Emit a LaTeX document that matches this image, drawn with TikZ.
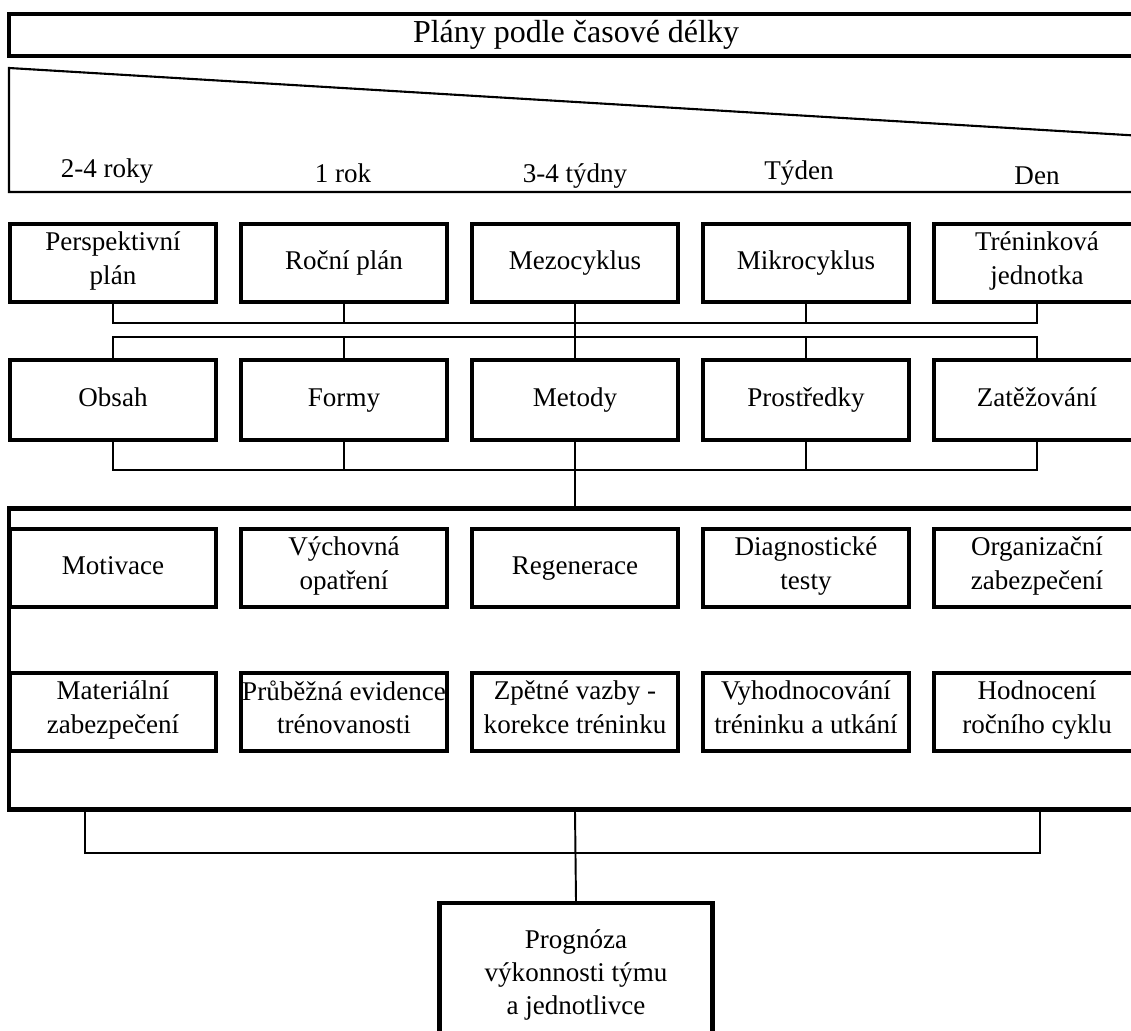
\documentclass[tikz,border=0pt]{standalone}
\usepackage{fontspec}
\setmainfont{Liberation Serif}
\usetikzlibrary{calc}

\tikzset{
	box/.style={draw, line width=1.8pt, minimum width=4.12cm, minimum height=1.56cm, inner xsep=0pt, inner ysep=1pt, align=center,
		execute at begin node=\strut, execute at end node=\strut},
	frame/.style={draw, line width=2.4pt, minimum width=22.64cm, minimum height=6.02cm},
	wire/.style={line width=1.1pt},
}

\begin{document}
\begin{tikzpicture}[x=0.02cm, y=-0.02cm, font=\fontsize{15.4}{19}\selectfont]
			\useasboundingbox (0,0) rectangle (1131,1030);
			\clip (0,0) rectangle (1131,1030);

			\node[draw, line width=2pt, minimum width=22.68cm, minimum height=0.84cm, font=\fontsize{18.2}{22}\selectfont] (title) at (576,35) {Plány podle časové délky};
			\draw[line width=1.2pt] (9,68) -- (1143,136) -- (1143,192) -- (9,192) -- cycle;
			\foreach \n/\x/\y/\t in {1/107/178/2-4 roky, 2/343/183/1 rok, 3/575/183/3-4 týdny, 4/799/180/Týden, 5/1037/185/Den}
			\node[anchor=base] (len\n) at (\x,\y) {\t};

			\foreach \n/\t in {1/{Perspektivní\\plán}, 2/Roční plán, 3/Mezocyklus, 4/Mikrocyklus, 5/{Tréninková\\jednotka}}
			\node[box] (p\n) at ({113+231*(\n-1)},263) {\t};
			\foreach \n/\t in {1/Obsah, 2/Formy, 3/Metody, 4/Prostředky, 5/Zatěžování}
			\node[box, minimum height=1.6cm] (c\n) at ({113+231*(\n-1)},400) {\t};

			\node[frame] (plan) at (575,659) {};
			\foreach \n/\t in {1/Motivace, 2/{Výchovná\\opatření}, 3/Regenerace, 4/{Diagnostické\\testy}, 5/{Organizační\\zabezpečení}}
			\node[box] (a\n) at ({113+231*(\n-1)},568) {\t};
			\foreach \n/\t in {1/{Materiální\\zabezpečení}, 2/{Průběžná evidence\\trénovanosti}, 3/{Zpětné vazby -\\korekce tréninku}, 4/{Vyhodnocování\\tréninku a utkání}, 5/{Hodnocení\\ročního cyklu}}
			\node[box] (b\n) at ({113+231*(\n-1)},712) {\t};

			\node[box, line width=2.4pt, minimum width=5.46cm, minimum height=2.96cm] (prog) at (576,977) {Prognóza\\výkonnosti týmu\\a jednotlivce};

			\coordinate (bus1) at (0,323);
			\coordinate (bus2) at (0,337);
			\coordinate (bus3) at (0,470);
			\coordinate (lo1) at (85,853);
			\coordinate (lo2) at (1040,853);

			\draw[wire] (p1.south) |- (p5.south |- bus1) -- (p5.south);
			\foreach \n in {2,4}
			\draw[wire] (p\n.south) -- (p\n.south |- bus1);
			\draw[wire] (c1.north) |- (c5.north |- bus2) -- (c5.north);
			\foreach \n in {2,4}
			\draw[wire] (c\n.north) -- (c\n.north |- bus2);
			\draw[wire] (p3.south) -- (c3.north);
			\draw[wire] (c1.south) |- (c5.south |- bus3) -- (c5.south);
			\foreach \n in {2,4}
			\draw[wire] (c\n.south) -- (c\n.south |- bus3);
			\draw[wire] (c3.south) -- (plan.north);
			\draw[wire] (lo1 |- plan.south) -- (lo1) -- (lo2) -- (lo2 |- plan.south);
			\draw[wire] (plan.south) -- (prog.north);
		\end{tikzpicture}
\end{document}
